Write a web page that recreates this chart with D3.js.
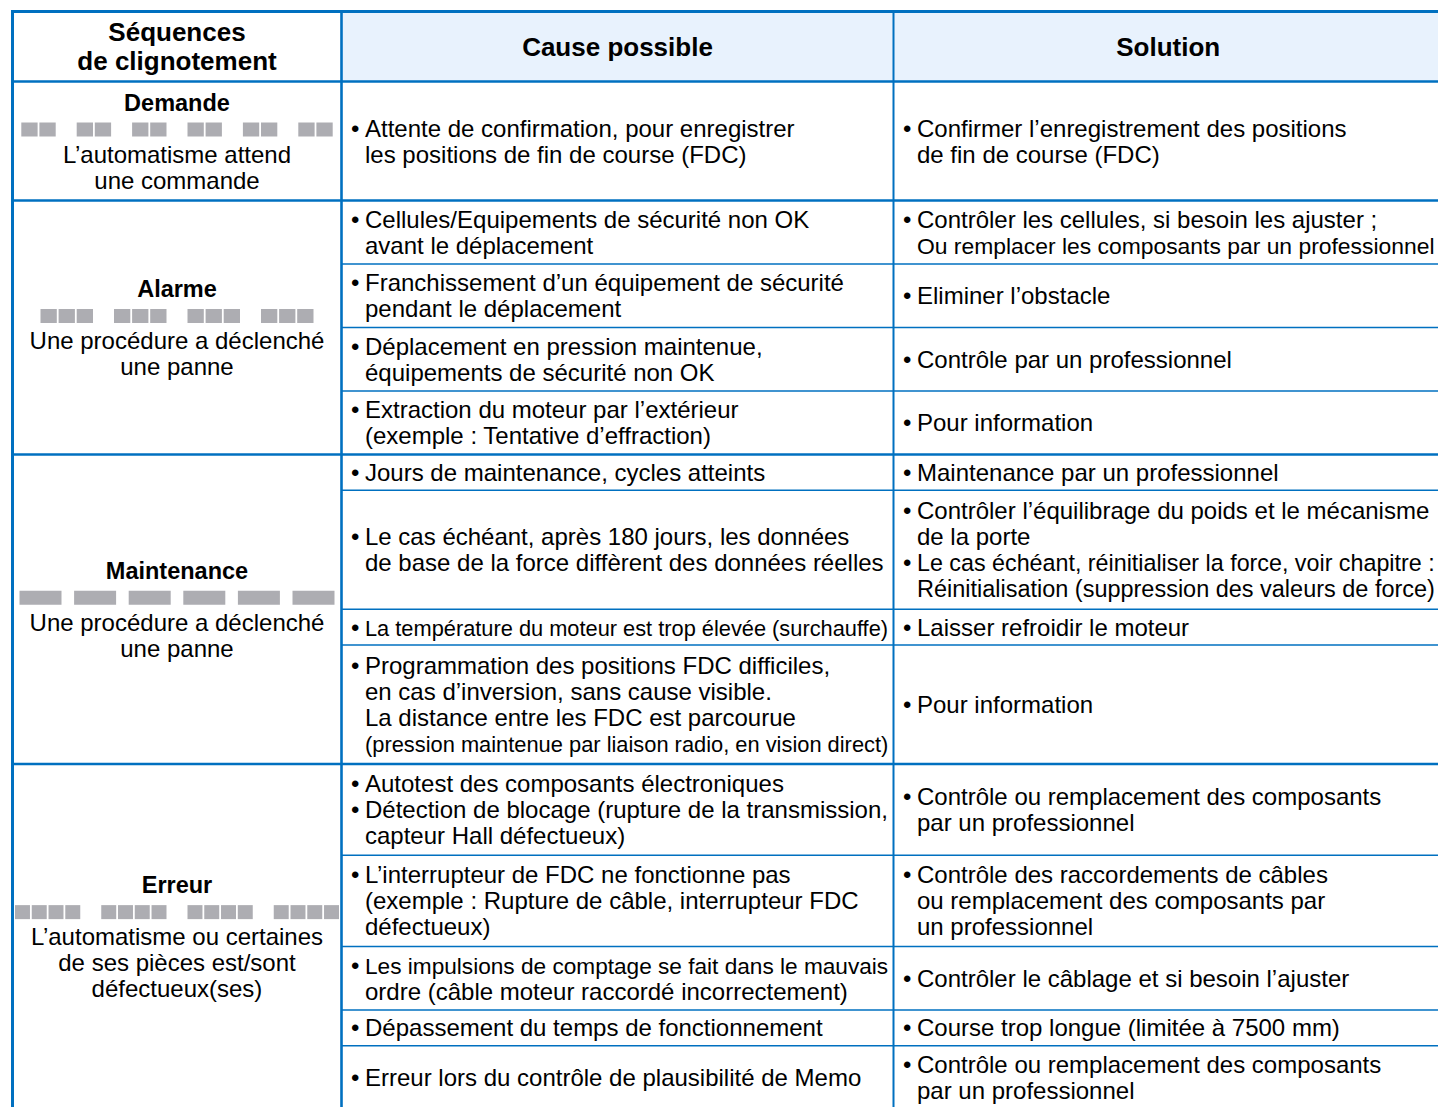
<!DOCTYPE html>
<html><head><meta charset="utf-8">
<script src="https://cdn.jsdelivr.net/npm/d3@7"></script>
<style>html,body{margin:0;padding:0;background:#fff;overflow:hidden}svg{display:block}</style>
</head><body><div id="chart"></div>
<script>
// ---------- DATA ----------
const headers = [["Séquences", "de clignotement"], ["Cause possible"], ["Solution"]];
const sequenceTitles = ["Demande", "Alarme", "Maintenance", "Erreur"];
const sequenceDescriptions = [
  ["L’automatisme attend", "une commande"],
  ["Une procédure a déclenché", "une panne"],
  ["Une procédure a déclenché", "une panne"],
  ["L’automatisme ou certaines", "de ses pièces est/sont", "défectueux(ses)"]
];
const blinkGroupCounts = [6, 4, 6, 4];
const blinkPulsesPerGroup = [2, 3, 1, 4];
const blinkPulseKind = ["short", "short", "long", "short"];

const rowSequence = [0, 1, 1, 1, 1, 2, 2, 2, 2, 3, 3, 3, 3, 3];
const causes = [
  ["• Attente de confirmation, pour enregistrer", "les positions de fin de course (FDC)"],
  ["• Cellules/Equipements de sécurité non OK", "avant le déplacement"],
  ["• Franchissement d’un équipement de sécurité", "pendant le déplacement"],
  ["• Déplacement en pression maintenue,", "équipements de sécurité non OK"],
  ["• Extraction du moteur par l’extérieur", "(exemple : Tentative d’effraction)"],
  ["• Jours de maintenance, cycles atteints"],
  ["• Le cas échéant, après 180 jours, les données", "de base de la force diffèrent des données réelles"],
  ["• La température du moteur est trop élevée (surchauffe)"],
  ["• Programmation des positions FDC difficiles,", "en cas d’inversion, sans cause visible.", "La distance entre les FDC est parcourue", "(pression maintenue par liaison radio, en vision direct)"],
  ["• Autotest des composants électroniques", "• Détection de blocage (rupture de la transmission,", "capteur Hall défectueux)"],
  ["• L’interrupteur de FDC ne fonctionne pas", "(exemple : Rupture de câble, interrupteur FDC", "défectueux)"],
  ["• Les impulsions de comptage se fait dans le mauvais", "ordre (câble moteur raccordé incorrectement)"],
  ["• Dépassement du temps de fonctionnement"],
  ["• Erreur lors du contrôle de plausibilité de Memo"]
];
const solutions = [
  ["• Confirmer l’enregistrement des positions", "de fin de course (FDC)"],
  ["• Contrôler les cellules, si besoin les ajuster ;", "Ou remplacer les composants par un professionnel"],
  ["• Eliminer l’obstacle"],
  ["• Contrôle par un professionnel"],
  ["• Pour information"],
  ["• Maintenance par un professionnel"],
  ["• Contrôler l’équilibrage du poids et le mécanisme", "de la porte", "• Le cas échéant, réinitialiser la force, voir chapitre :", "Réinitialisation (suppression des valeurs de force)"],
  ["• Laisser refroidir le moteur"],
  ["• Pour information"],
  ["• Contrôle ou remplacement des composants", "par un professionnel"],
  ["• Contrôle des raccordements de câbles", "ou remplacement des composants par", "un professionnel"],
  ["• Contrôler le câblage et si besoin l’ajuster"],
  ["• Course trop longue (limitée à 7500 mm)"],
  ["• Contrôle ou remplacement des composants", "par un professionnel"]
];

// ---------- LAYOUT ----------
const W = 1438, H = 1107;
const BLUE = "#0070C0", HEAD_BG = "#E8F2FD", GREY = "#ADADB2";
const FONT = "'Liberation Sans', Arial, Helvetica, sans-serif";
const BODY = 24;
const colX = [12.5, 341.5, 893.5, 1443];
const yTop = 11.5, headerH = 70;
const lineGap = 26;
const rowH = n => 8 + 27.75 * n;

const svg = d3.select("#chart").append("svg").attr("width", W).attr("height", H)
  .style("font-family", FONT);

const rows = causes.map((c, i) => ({ i, seq: rowSequence[i], cause: c, sol: solutions[i], h: rowH(Math.max(c.length, solutions[i].length)) }));
const seqs = sequenceTitles.map((t, s) => {
  const rs = rows.filter(r => r.seq === s);
  const need = rowH(2 + sequenceDescriptions[s].length);
  const sum = d3.sum(rs, r => r.h);
  if (need > sum && rs.length) rs[rs.length - 1].h += need - sum;
  return { s, title: t, rows: rs };
});
let y = yTop + headerH;
seqs.forEach(g => {
  g.y0 = y;
  g.rows.forEach(r => { r.y0 = y; y += r.h; r.y1 = y; });
  g.y1 = y;
});

svg.append("rect").attr("x", colX[1]).attr("y", yTop).attr("width", colX[3] - colX[1]).attr("height", headerH).attr("fill", HEAD_BG);

headers.forEach((lines, c) => {
  const cx = (colX[c] + colX[c + 1]) / 2, cy = yTop + headerH / 2;
  const t = svg.append("text").attr("text-anchor", "middle").attr("font-weight", "bold").attr("font-size", 26).attr("fill", "#000");
  lines.forEach((l, k) => {
    t.append("tspan").attr("x", cx).attr("y", cy + (k - (lines.length - 1) / 2) * 29 + 9).text(l);
  });
});

seqs.forEach(g => {
  const s = g.s;
  const cx = (colX[0] + colX[1]) / 2;
  const nSlots = 2 + sequenceDescriptions[s].length;
  const mid = (g.y0 + g.y1) / 2;
  const first = mid - (nSlots - 1) / 2 * lineGap;
  svg.append("text").attr("x", cx).attr("y", first + 8.5).attr("text-anchor", "middle")
    .attr("font-weight", "bold").attr("font-size", 23.5).text(g.title);
  const nG = blinkGroupCounts[s], nP = blinkPulsesPerGroup[s];
  const long = blinkPulseKind[s] === "long";
  const innerGap = 1.8, groupGap = long ? 12.6 : 21, maxSpan = 324;
  const pulseW = long ? 42 : Math.min(16.3, (maxSpan - (nG - 1) * groupGap - nG * (nP - 1) * innerGap) / (nG * nP));
  const groupW = nP * pulseW + (nP - 1) * innerGap;
  const totalW = nG * groupW + (nG - 1) * groupGap;
  const gx = d3.scaleBand().domain(d3.range(nG)).range([cx - totalW / 2, cx + totalW / 2])
    .paddingInner(groupGap / (groupW + groupGap)).paddingOuter(0);
  const px = d3.scaleBand().domain(d3.range(nP)).range([0, gx.bandwidth()])
    .paddingInner(nP > 1 ? innerGap / (pulseW + innerGap) : 0);
  const by = first + 27.5 - 7;
  const cells = [];
  d3.range(nG).forEach(a => d3.range(nP).forEach(b => cells.push([a, b])));
  svg.append("g").selectAll("rect").data(cells).join("rect")
    .attr("x", d => gx(d[0]) + px(d[1])).attr("y", by)
    .attr("width", px.bandwidth()).attr("height", 14).attr("fill", GREY);
  const t = svg.append("text").attr("text-anchor", "middle").attr("font-size", BODY);
  sequenceDescriptions[s].forEach((l, k) => {
    t.append("tspan").attr("x", cx).attr("y", first + 52 + k * lineGap + 8.5).text(l);
  });
});

function cellText(lines, c, y0, y1) {
  const bx = colX[c] + 9.5, tx = colX[c] + 23.5;
  const maxW = c === 1 ? colX[2] - tx - 5 : 1435 - tx;
  const mid = (y0 + y1) / 2;
  lines.forEach((l, k) => {
    const yy = mid + (k - (lines.length - 1) / 2) * lineGap + 8.5;
    const bullet = l.startsWith("• ");
    const txt = bullet ? l.slice(2) : l;
    if (bullet) svg.append("text").attr("x", bx).attr("y", yy).attr("font-size", BODY).text("•");
    const t = svg.append("text").attr("x", tx).attr("y", yy).attr("font-size", BODY).text(txt);
    const len = t.node().getComputedTextLength();
    if (len > maxW) t.attr("font-size", BODY * maxW / len);
  });
}
rows.forEach(r => {
  cellText(r.cause, 1, r.y0, r.y1);
  cellText(r.sol, 2, r.y0, r.y1);
});

const L = svg.append("g").attr("stroke", BLUE).attr("fill", "none");
rows.forEach(r => {
  const g = seqs[r.seq];
  if (r.y1 < g.y1 - 0.5) L.append("line").attr("x1", colX[1]).attr("x2", colX[3]).attr("y1", r.y1).attr("y2", r.y1).attr("stroke-width", 1.5);
});
seqs.forEach(g => {
  L.append("line").attr("x1", colX[0] - 1.5).attr("x2", colX[3]).attr("y1", g.y1).attr("y2", g.y1).attr("stroke-width", 2.6);
});
L.append("line").attr("x1", colX[0] - 1.5).attr("x2", colX[3]).attr("y1", yTop).attr("y2", yTop).attr("stroke-width", 3);
L.append("line").attr("x1", colX[0] - 1.5).attr("x2", colX[3]).attr("y1", yTop + headerH).attr("y2", yTop + headerH).attr("stroke-width", 2.6);
const bottom = seqs[seqs.length - 1].y1;
L.append("line").attr("x1", colX[0]).attr("x2", colX[0]).attr("y1", yTop - 1.5).attr("y2", bottom).attr("stroke-width", 3);
L.append("line").attr("x1", colX[1]).attr("x2", colX[1]).attr("y1", yTop - 1.5).attr("y2", bottom).attr("stroke-width", 2.6);
L.append("line").attr("x1", colX[2]).attr("x2", colX[2]).attr("y1", yTop - 1.5).attr("y2", bottom).attr("stroke-width", 2);
L.append("line").attr("x1", colX[3]).attr("x2", colX[3]).attr("y1", yTop - 1.5).attr("y2", bottom).attr("stroke-width", 3);
</script></body></html>
